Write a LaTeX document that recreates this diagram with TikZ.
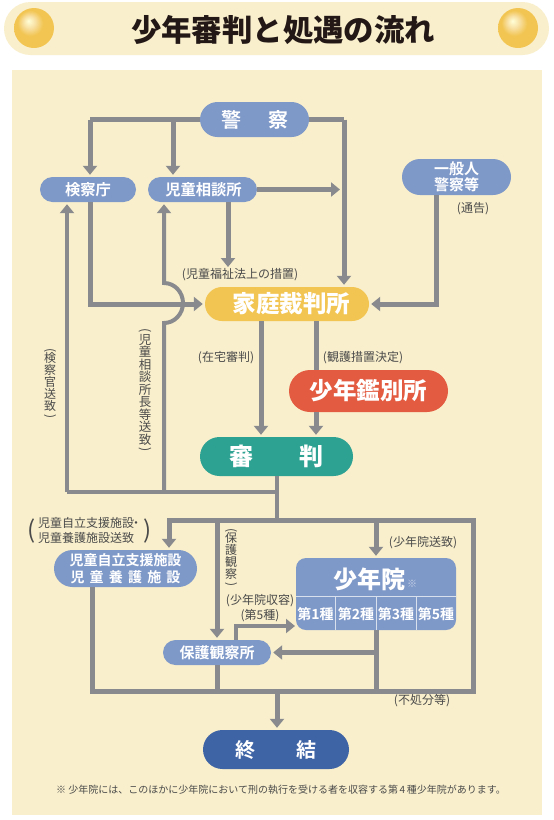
\documentclass[tikz,border=0pt]{standalone}
\usepackage{fontspec}
\usetikzlibrary{arrows.meta,shapes.misc}
\setmainfont{Noto Sans CJK JP}
\newfontfamily\jpb{Noto Sans CJK JP Bold}
\newfontfamily\jpk{Noto Sans CJK JP Black}
\definecolor{cream}{HTML}{F9EFCC}
\definecolor{lineg}{HTML}{898A8D}
\definecolor{bl}{HTML}{7E98C8}
\definecolor{yl}{HTML}{F2C552}
\definecolor{rd}{HTML}{E35B40}
\definecolor{gr}{HTML}{2DA292}
\definecolor{dbl}{HTML}{3F64A6}
\definecolor{txt}{HTML}{4A4A4A}
\pgfdeclareradialshading{goldball}{\pgfpoint{-7bp}{9bp}}{
 color(0bp)=(white!85!yellow);
 color(8bp)=(white!45!yl);
 color(16bp)=(yl);
 color(50bp)=(yl)}
\newcommand{\fs}[1]{\fontsize{#1}{#1}\selectfont\lineskiplimit=-100pt\relax}
\newcommand{\up}{\rotatebox[origin=c]{-90}{(}}
\newcommand{\dn}{\rotatebox[origin=c]{-90}{)}}
\tikzset{
 pill/.style n args={3}{rounded rectangle,fill=#3,minimum width=#1pt,minimum height=#2pt,inner sep=0pt,text=white,align=center},
 conn/.style={draw=lineg,line width=5pt,line join=miter},
 thin conn/.style={draw=lineg,line width=4pt,line join=miter},
 arr/.style={-{Triangle[length=9pt,width=14pt]},shorten >=2pt},
 lab/.style={text=txt,inner sep=0pt,align=center,font=\fs{12}},
 vlab/.style={text=txt,inner sep=0pt,align=center,font=\fs{12}},
}
\begin{document}
\begin{tikzpicture}[x=1pt,y=-1pt]
\useasboundingbox (0,0) rectangle (554,820);
\fill[white] (0,0) rectangle (554,820);
% title band
\node[rounded rectangle,fill=cream,minimum width=545pt,minimum height=53pt,inner sep=0pt] (band) at (276.5,28.5) {};
\shade[shading=goldball] (34,28) circle (20);
\shade[shading=goldball] (518,28) circle (20);
\node[inner sep=0pt,text={rgb,255:red,35;green,24;blue,21}] (title) at (283,30) {\jpk\fs{30.4}少年審判と処遇の流れ};
% panel
\fill[cream] (12,70) rectangle (542,815);
% nodes
\node[pill={109}{35}{bl}] (police) at (254.5,119.5) {\jpb\fs{20}警\hspace{27pt}察};
\node[pill={96}{25}{bl}] (kensatsu) at (88,189.5) {\jpb\fs{15.3}検察庁};
\node[pill={109}{25}{bl}] (jisou) at (202.5,189.5) {\jpb\fs{15.3}\hspace*{2pt}児童相談所};
\node[pill={109}{36}{bl},font=\jpb\fs{15},align=center] (ippan) at (456.5,177) {一般人\\[1pt]警察等};
\node[pill={164}{34}{yl}] (katei) at (287,304) {\jpk\fs{23.5}\hspace*{9pt}家庭裁判所};
\node[pill={159}{42}{rd}] (kanbetsu) at (368.5,391) {\jpk\fs{23.5}少年鑑別所};
\node[pill={153}{39}{gr}] (shinpan) at (276.5,456.5) {\jpk\fs{24}審\hspace{47pt}判};
\node[pill={143}{37}{bl},font=\jpb\fs{14},align=center] (jiritsu) at (125.5,568.5) {児童自立支援施設\\[2.5pt]児\hspace{5.2pt}童\hspace{5.2pt}養\hspace{5.2pt}護\hspace{5.2pt}施\hspace{5.2pt}設};
\node[pill={108}{25}{bl}] (hogo) at (217,652.5) {\jpb\fs{15}保護観察所};
\node[pill={146}{39}{dbl}] (shuketsu) at (276,749.5) {\jpb\fs{20}終\hspace{41pt}結};
% shonenin block
\node[rounded corners=10pt,fill=bl,minimum width=160pt,minimum height=72pt,inner sep=0pt] (shonen) at (376,594) {};
\draw[white!70!bl,line width=1pt] (296,596.5) -- (456,596.5);
\draw[white!70!bl,line width=.8pt] (335.7,597) -- (335.7,630) (376,597) -- (376,630) (416.3,597) -- (416.3,630);
\node[inner sep=0pt,text=white] (sntxt) at (369,579) {\jpk\fs{24}少年院};
\node[inner sep=0pt,text=white!60!bl] (snmark) at (412,584) {\fs{10}※};
\node[inner sep=0pt,text=white] (d1) at (315.5,614) {\jpb\fs{14}第1種};
\node[inner sep=0pt,text=white] (d2) at (356,614) {\jpb\fs{14}第2種};
\node[inner sep=0pt,text=white] (d3) at (396,614) {\jpb\fs{14}第3種};
\node[inner sep=0pt,text=white] (d5) at (436,614) {\jpb\fs{14}第5種};
% coordinates
\coordinate (pL) at (90,119.5);
\coordinate (pM) at (173,119.5);
\coordinate (pR) at (344,119.5);
\coordinate (jR) at (340,189.5);
\coordinate (jD) at (228,190);
\coordinate (kLow) at (90,304);
\coordinate (iv) at (436,304);
\coordinate (kvL) at (261,304);
\coordinate (kvR) at (316,304);
\coordinate (back) at (277,492);
\coordinate (bL) at (67,492);
\coordinate (bM) at (164,492);
\coordinate (arcB) at (164,323);
\coordinate (up1) at (67,190);
\coordinate (up2) at (164,190);
\coordinate (top) at (277,520.5);
\coordinate (tL) at (169,520.5);
\coordinate (tR) at (473,520.5);
\coordinate (tH) at (217,520.5);
\coordinate (tS) at (376,520.5);
\coordinate (bbL) at (92,691);
\coordinate (bbR) at (473,691);
\coordinate (bbH) at (217,691);
\coordinate (bbS) at (376,691);
\coordinate (bbM) at (277,691);
\coordinate (sJ) at (376,652.5);
\coordinate (hUp) at (236,626);
\coordinate (jL) at (92,568);
% connectors
\draw[conn] (police.west) -- (pL);
\draw[conn,arr] (pL) -- (pL |- kensatsu.north);
\draw[conn,arr] (pM) -- (pM |- jisou.north);
\draw[conn] (police.east) -- (pR);
\draw[conn,arr] (pR) -- (pR |- katei.north);
\draw[conn,arr,shorten >=0pt] (jisou.east) -- (jR);
\draw[conn,arr] (jD |- jisou.south) -- (228,269);
\draw[conn,arr] (ippan.south -| iv) -- (iv) -- (katei.east);
\draw[conn,arr] (kensatsu.south -| kLow) -- (kLow) -- (katei.west);
\draw[thin conn,arr] (bL) -- (up1 |- kensatsu.south);
\draw[thin conn,arr] (bM) -- (arcB) arc[start angle=90,end angle=-90,x radius=19pt,y radius=-20pt] -- (up2 |- jisou.south);
\draw[thin conn] (shinpan.south -| back) -- (top);
\draw[thin conn] (back) -- (bL);
\draw[conn,arr] (kvL |- katei.south) -- (kvL |- shinpan.north);
\draw[conn] (kvR |- katei.south) -- (kvR |- kanbetsu.north);
\draw[conn,arr] (kvR |- kanbetsu.south) -- (kvR |- shinpan.north);
\draw[conn,arr] (top) -- (tL) -- (tL |- jiritsu.north);
\draw[conn] (top) -- (tR) -- (bbR) -- (bbL) -- (jL |- jiritsu.south);
\draw[conn,arr] (tH) -- (hogo.north);
\draw[conn] (hogo.south) -- (bbH);
\draw[conn,arr] (tS) -- (tS |- shonen.north);
\draw[conn] (sJ |- shonen.south) -- (bbS);
\draw[conn,arr] (sJ) -- (hogo.east);
\draw[thin conn,arr,shorten >=0pt] (hUp |- hogo.north) -- (hUp) -- (295,626);
\draw[conn,arr] (bbM) -- (shuketsu.north -| bbM);
% labels
\node[lab] (l1) at (473,209) {(通告)};
\node[lab] (l2) at (240,275) {(児童福祉法上の措置)};
\node[lab] (l3) at (226,358) {(在宅審判)};
\node[lab] (l4) at (363,358) {(観護措置決定)};
\node[lab] (l5) at (423,543) {(少年院送致)};
\node[lab] (l6) at (260,601) {(少年院収容)};
\node[lab] (l7) at (260,616) {(第5種)};
\node[lab] (l8) at (422,701) {(不処分等)};
\node[lab,align=left,anchor=west] (l9) at (38,530.5) {児童自立支援施設\hspace{-4pt}・\\[3pt]児童養護施設送致};
\node[inner sep=0pt,text=txt] (p1) at (32,531) {\fs{24}(};
\node[inner sep=0pt,text=txt] (p2) at (147.5,531) {\fs{24})};
\node[vlab] (v1) at (50,384) {\up\\[-3pt]検\\察\\官\\送\\致\\[-3pt]\dn};
\node[vlab,font=\fs{12.5}] (v2) at (145,391) {\up\\[-3pt]児\\童\\相\\談\\所\\長\\等\\送\\致\\[-3pt]\dn};
\node[vlab] (v3) at (231,558) {\up\\[-3pt]保\\護\\観\\察\\[-3pt]\dn};
\node[inner sep=0pt,text=txt] (foot) at (281,790) {\fs{10}※ 少年院には、このほかに少年院において刑の執行を受ける者を収容する第\,4\,種少年院があります。};
\end{tikzpicture}
\end{document}
